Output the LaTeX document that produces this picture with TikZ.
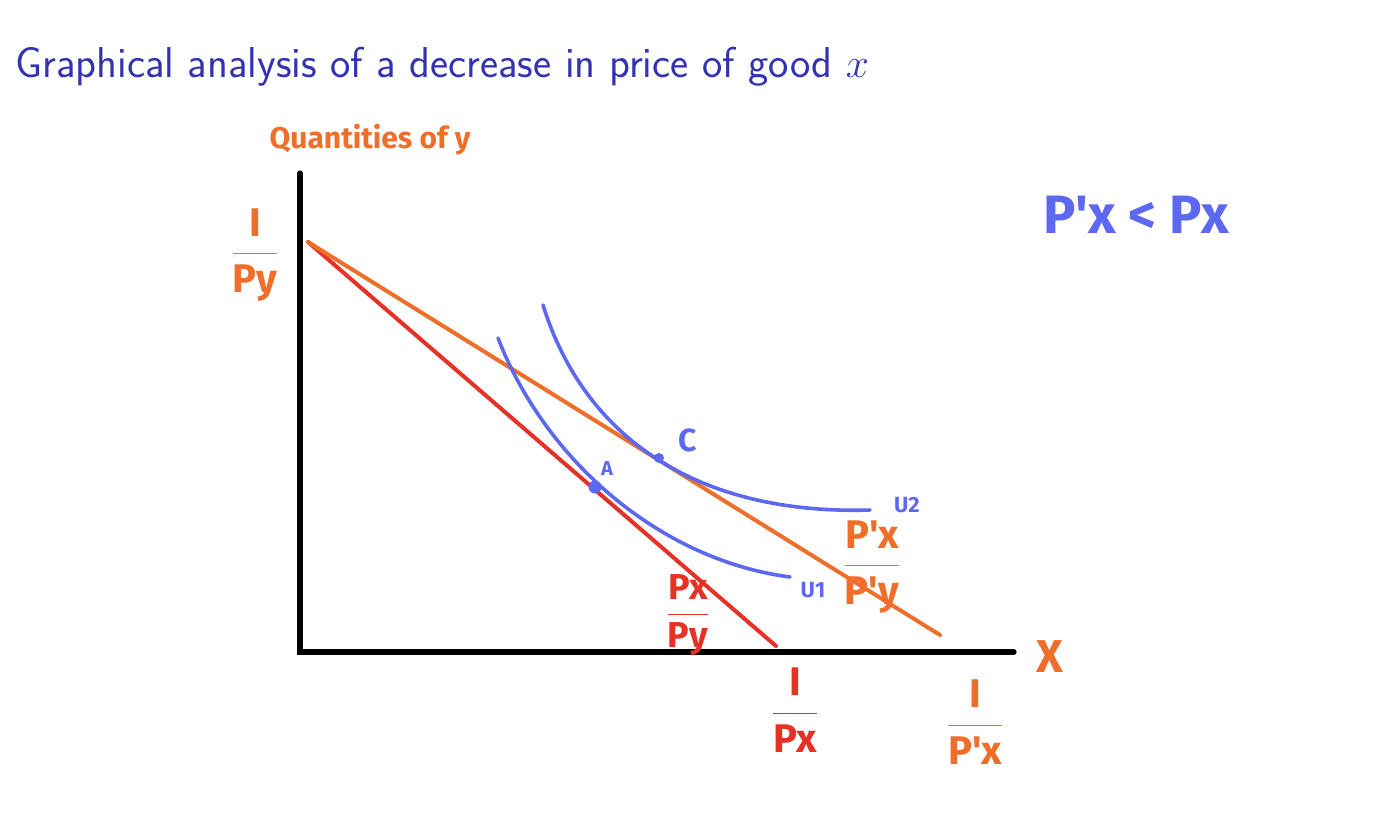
\documentclass[tikz,border=0pt]{standalone}
\usepackage{fontspec}
\newfontfamily\hand{Fira Sans}
\definecolor{ttl}{RGB}{51,51,178}
\definecolor{orng}{RGB}{238,110,42}
\definecolor{rd}{RGB}{230,50,38}
\definecolor{bl}{RGB}{92,104,240}
\begin{document}
\begin{tikzpicture}[x=0.5pt,y=-0.5pt,
  axis/.style={line width=2.6pt,black,line cap=round},
  budget/.style={line width=2pt,line cap=round},
  indiff/.style={line width=1.8pt,bl,line cap=round},
  hw/.style={font=\hand\bfseries\fontsize{20}{22}\selectfont,inner sep=0pt},
  dotpt/.style={circle,fill=bl,inner sep=0pt,minimum size=6.5pt}]
\useasboundingbox (0,0) rectangle (1396,832);
% title
\node[anchor=base west,text=ttl,font=\sffamily\fontsize{21.6}{26}\selectfont,inner sep=0pt] (title) at (15,77) {Graphical analysis of a decrease in price of good $x$};
% axes
\coordinate (o) at (300,652);
\coordinate (ytop) at (300,173);
\coordinate (xend) at (1014,652);
\draw[axis] (ytop) -- (o) -- (xend);
% budget lines
\coordinate (b0) at (308,242);
\coordinate (r1) at (776,646);
\coordinate (o1) at (940,635);
\draw[budget,rd] (b0) -- (r1);
\draw[budget,orng] (b0) -- (o1);
% indifference curves
\coordinate (u1s) at (498,338);
\coordinate (u1e) at (790,577);
\coordinate (u2s) at (543,305);
\coordinate (u2e) at (870,510);
\draw[indiff] (u1s) .. controls (545,460) and (660,560) .. (u1e);
\draw[indiff] (u2s) .. controls (585,440) and (700,515) .. (u2e);
% points
\node[dotpt] (A) at (595,487) {};
\node[dotpt,minimum size=5pt] (C) at (659,458) {};
\node[hw,text=bl,font=\hand\bfseries\fontsize{10}{11}\selectfont] (Alab) at (607,469) {A};
\node[hw,text=bl,font=\hand\bfseries\fontsize{16}{17}\selectfont] (Clab) at (688,440) {C};
\node[hw,text=bl,font=\hand\bfseries\fontsize{11}{12}\selectfont] (U2lab) at (907,505) {U2};
\node[hw,text=bl,font=\hand\bfseries\fontsize{11}{12}\selectfont] (U1lab) at (813,590) {U1};
% labels
\node[hw,text=orng,font=\hand\bfseries\fontsize{15}{16}\selectfont] (qy) at (370,140) {Quantities of y};
\node[hw,text=orng] (ipy) at (255,255) {$\displaystyle\frac{\textrm{\hand\bfseries I}}{\textrm{\hand\bfseries Py}}$};
\node[hw,text=rd,font=\hand\bfseries\fontsize{18}{20}\selectfont] (pxpy) at (688,615) {$\displaystyle\frac{\textrm{\hand\bfseries Px}}{\textrm{\hand\bfseries Py}}$};
\node[hw,text=orng] (ppxpy) at (872,567) {$\displaystyle\frac{\textrm{\hand\bfseries P'x}}{\textrm{\hand\bfseries P'y}}$};
\node[hw,text=rd] (ipx) at (795,710) {$\displaystyle\frac{\textrm{\hand\bfseries I}}{\textrm{\hand\bfseries Px}}$};
\node[hw,text=orng] (ippx) at (975,722) {$\displaystyle\frac{\textrm{\hand\bfseries I}}{\textrm{\hand\bfseries P'x}}$};
\node[hw,text=orng,font=\hand\bfseries\fontsize{23}{24}\selectfont] (xlab) at (1050,657) {X};
\node[hw,text=bl,font=\hand\bfseries\fontsize{27}{28}\selectfont] (cmp) at (1136,215) {P'x < Px};
\end{tikzpicture}
\end{document}
